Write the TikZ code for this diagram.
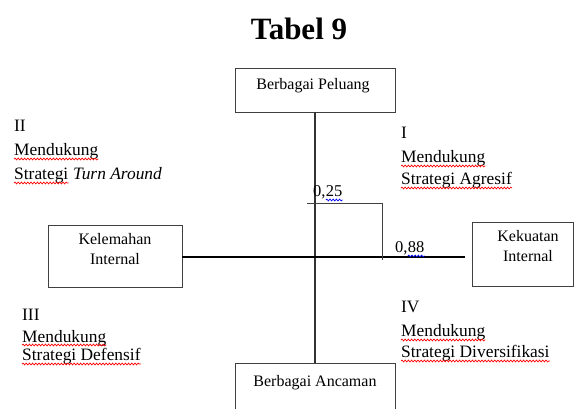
\documentclass[tikz,border=0pt]{standalone}
\usepackage{fontspec}
\setmainfont{Liberation Serif}
\usetikzlibrary{decorations.pathmorphing}
\tikzset{
  box/.style={draw=black!75, line width=0.9pt, rectangle, inner sep=0pt},
  lbl/.style={inner sep=0pt, anchor=base, font=\fontsize{16}{18}\selectfont},
  quad/.style={inner sep=0pt, anchor=base west, font=\fontsize{17.4}{20}\selectfont},
  num/.style={inner sep=0pt, anchor=base west, font=\fontsize{16.5}{19}\selectfont},
  squig/.style={decorate, decoration={snake, amplitude=0.9pt, segment length=3.2pt}, line width=0.7pt},
}
\newcommand\wv[2]{\draw[squig,#1] ([yshift=-3pt]#2.base west) -- ([yshift=-3pt]#2.base east);}
\begin{document}
\begin{tikzpicture}[x=1pt,y=-1pt]
\useasboundingbox (0,0) rectangle (574,409);
\clip (0,0) rectangle (574,409);
% title
\node[inner sep=0pt, anchor=base, font=\fontsize{31}{34}\selectfont\bfseries] (title) at (299,40) {Tabel 9};
% boxes
\node[box, minimum width=160pt, minimum height=44pt] (pel) at (315,90) {};
\node[box, minimum width=160pt, minimum height=67pt] (anc) at (315,396.5) {};
\node[box, minimum width=134pt, minimum height=62pt] (kel) at (115,256) {};
\node[box, minimum width=101pt, minimum height=64pt] (kek) at (522.5,254) {};
% box labels
\node[lbl] (pelt) at (313,90) {Berbagai Peluang};
\node[lbl] (anct) at (315,386) {Berbagai Ancaman};
\node[lbl] (kelt1) at (115,245) {Kelemahan};
\node[lbl] (kelt2) at (115,265) {Internal};
\node[lbl] (kekt1) at (528,242) {Kekuatan};
\node[lbl] (kekt2) at (528,262) {Internal};
% axes
\coordinate (hend) at (465,257);
\draw[black!80, line width=2pt] (pel.south) -- (anc.north);
\draw[black, line width=2.2pt] (kel.east |- 0,257) -- (hend);
% position rectangle
\coordinate (r1) at (307,203);
\coordinate (r2) at (382,203);
\coordinate (r3) at (382,260);
\draw[black!75, line width=0.9pt] (r1) -- (r2) -- (r3);
\node[num] (v1) at (313,197) {0,};
\node[num, anchor=base west] (v1b) at (v1.base east) {25};
\node[num] (v2) at (395,253) {0,};
\node[num, anchor=base west] (v2b) at (v2.base east) {88};
\wv{blue}{v1b}
\wv{blue}{v2b}
% quadrant labels
\node[quad] (q2a) at (14,132) {II};
\node[quad] (q2b) at (14,156) {Mendukung};
\node[quad] (q2c) at (14,180) {Strategi};
\node[quad] (q2d) at ([xshift=4.35pt]q2c.base east) {\textit{Turn Around}};
\node[quad] (q1a) at (401,139) {I};
\node[quad] (q1b) at (401,163) {Mendukung};
\node[quad] (q1c) at (401,185) {Strategi Agresif};
\node[quad] (q3a) at (22,321) {III};
\node[quad] (q3b) at (22,342) {Mendukung};
\node[quad] (q3c) at (22,361) {Strategi Defensif};
\node[quad] (q4a) at (401,313) {IV};
\node[quad] (q4b) at (401,337) {Mendukung};
\node[quad] (q4c) at (401,358) {Strategi Diversifikasi};
\foreach \n in {q2b,q2c,q1b,q1c,q3b,q3c,q4b,q4c} {\wv{red}{\n}}
\end{tikzpicture}
\end{document}
